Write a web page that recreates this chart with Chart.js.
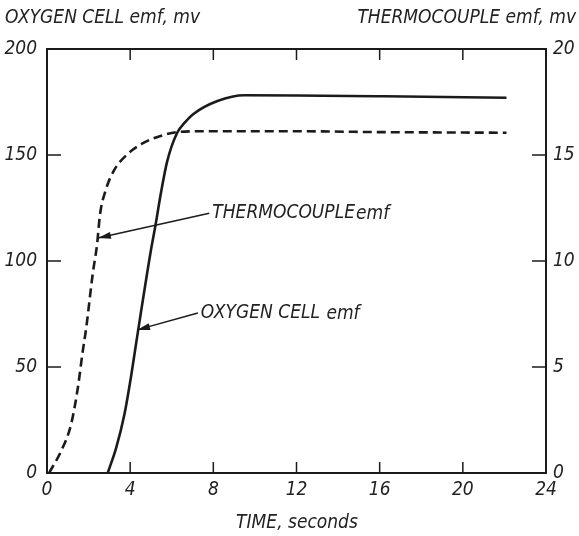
<!DOCTYPE html>
<html>
<head>
<meta charset="utf-8">
<script src="https://cdn.jsdelivr.net/npm/chart.js@4.4.1/dist/chart.umd.min.js"></script>
<style>
  html, body { margin: 0; padding: 0; background: #fff; }
  #wrap { width: 579px; height: 536px; }
</style>
</head>
<body>
<div id="wrap"><canvas id="chart" width="579" height="536"></canvas></div>
<script>
// oxygen cell emf, mv (left axis)
const oxygenTime = [2.92, 3.33, 3.73, 4.05, 4.3, 4.98, 5.22, 5.46, 5.78, 6.26, 6.6, 7.06, 8.2, 9.5, 12, 16.2, 22.1];
const oxygenEmf = [0, 12, 28, 46, 62, 104, 117, 131, 147, 160.5, 165, 169.5, 175.5, 178.2, 178.1, 177.7, 177];

// thermocouple emf, mv (right axis)
const thermoTime = [0.1, 0.68, 1.16, 1.48, 1.72, 1.88, 2.2, 2.41, 2.55, 2.81, 3.21, 3.86, 4.66, 5.46, 6.26, 7.4, 12, 16, 22.1];
const thermoEmf = [0, 1.04, 2.3, 4.0, 5.75, 6.8, 9.4, 10.8, 12.2, 13.3, 14.25, 15.03, 15.58, 15.9, 16.08, 16.12, 16.12, 16.08, 16.05];

const timeTicks = [0, 4, 8, 12, 16, 20, 24];
const leftTicks = [0, 50, 100, 150, 200];
const rightTicks = [0, 5, 10, 15, 20];

const ink = '#1b1b1b';
const font = "'Liberation Sans Narrow', 'DejaVu Sans Condensed', 'Liberation Sans', sans-serif";

const pts = (xs, ys) => xs.map((x, i) => ({ x: x, y: ys[i] }));

// labels with arrows, in data units of x and left y axis
const notes = [
  { text: 'THERMOCOUPLE', small: 'emf', tx: 7.95, ty: 122.5, ax: 2.45, ay: 110.8 },
  { text: 'OXYGEN CELL ', small: 'emf', tx: 7.4, ty: 75.5, ax: 4.33, ay: 67.5 }
];

const framePlugin = {
  id: 'frame',
  afterDraw(chart) {
    const ctx = chart.ctx;
    const a = chart.chartArea;
    const xs = chart.scales.x, yl = chart.scales.yL, yr = chart.scales.yR;
    ctx.save();
    ctx.strokeStyle = ink;
    ctx.lineWidth = 2;
    ctx.beginPath();
    ctx.moveTo(a.left - 1, a.top);
    ctx.lineTo(a.right + 1, a.top);
    ctx.stroke();

    // inward ticks
    ctx.lineWidth = 1.5;
    ctx.beginPath();
    timeTicks.slice(1, -1).forEach(v => {
      const px = xs.getPixelForValue(v);
      ctx.moveTo(px, a.bottom); ctx.lineTo(px, a.bottom - 11);
      ctx.moveTo(px, a.top); ctx.lineTo(px, a.top + 11);
    });
    leftTicks.slice(1, -1).forEach(v => {
      const py = yl.getPixelForValue(v);
      ctx.moveTo(a.left, py); ctx.lineTo(a.left + 14, py);
    });
    rightTicks.slice(1, -1).forEach(v => {
      const py = yr.getPixelForValue(v);
      ctx.moveTo(a.right, py); ctx.lineTo(a.right - 14, py);
    });
    ctx.stroke();

    // axis titles
    ctx.fillStyle = '#222';
    ctx.textBaseline = 'alphabetic';
    ctx.font = 'italic 19px ' + font;
    ctx.textAlign = 'left';
    ctx.fillText('OXYGEN CELL emf, mv', 5, 23);
    ctx.textAlign = 'right';
    ctx.fillText('THERMOCOUPLE emf, mv', 576, 23);
    ctx.textAlign = 'center';
    ctx.fillText('TIME, seconds', 297, 528);

    // annotations with arrows
    notes.forEach(n => {
      const tx = xs.getPixelForValue(n.tx), ty = yl.getPixelForValue(n.ty);
      const ax = xs.getPixelForValue(n.ax), ay = yl.getPixelForValue(n.ay);
      ctx.strokeStyle = ink;
      ctx.lineWidth = 1.5;
      ctx.beginPath();
      ctx.moveTo(tx - 3, ty);
      ctx.lineTo(ax, ay);
      ctx.stroke();
      const ang = Math.atan2(ay - ty, ax - tx);
      ctx.fillStyle = ink;
      ctx.beginPath();
      ctx.moveTo(ax, ay);
      ctx.lineTo(ax - 13 * Math.cos(ang) + 3.5 * Math.sin(ang), ay - 13 * Math.sin(ang) - 3.5 * Math.cos(ang));
      ctx.lineTo(ax - 13 * Math.cos(ang) - 3.5 * Math.sin(ang), ay - 13 * Math.sin(ang) + 3.5 * Math.cos(ang));
      ctx.closePath();
      ctx.fill();
      ctx.fillStyle = '#222';
      ctx.textAlign = 'left';
      ctx.textBaseline = 'middle';
      ctx.font = 'italic 19px ' + font;
      ctx.fillText(n.text, tx, ty);
      const mw = ctx.measureText(n.text).width;
      ctx.fillText(n.small, tx + mw + 1, ty + 1);
    });
    ctx.restore();
  }
};

new Chart(document.getElementById('chart'), {
  type: 'line',
  data: {
    datasets: [
      {
        label: 'OXYGEN CELL emf',
        data: pts(oxygenTime, oxygenEmf),
        yAxisID: 'yL',
        borderColor: ink,
        borderWidth: 2.6,
        pointRadius: 0,
        cubicInterpolationMode: 'monotone',
        fill: false
      },
      {
        label: 'THERMOCOUPLE emf',
        data: pts(thermoTime, thermoEmf),
        yAxisID: 'yR',
        borderColor: ink,
        borderWidth: 2.6,
        borderDash: [9, 5],
        pointRadius: 0,
        cubicInterpolationMode: 'monotone',
        fill: false
      }
    ]
  },
  options: {
    responsive: false,
    animation: false,
    devicePixelRatio: 1,
    layout: { padding: { top: 49, left: 0, right: 0, bottom: 0 } },
    plugins: { legend: { display: false }, tooltip: { enabled: false } },
    scales: {
      x: {
        type: 'linear',
        min: 0, max: 24,
        afterFit: s => { s.height = 63; },
        afterBuildTicks: s => { s.ticks = timeTicks.map(v => ({ value: v })); },
        grid: { display: false, drawTicks: false },
        border: { display: true, color: ink, width: 2 },
        ticks: { color: '#222', padding: 6, font: { family: font, size: 19, style: 'italic' } }
      },
      yL: {
        type: 'linear',
        position: 'left',
        min: 0, max: 200,
        afterFit: s => { s.width = 47; },
        afterBuildTicks: s => { s.ticks = leftTicks.map(v => ({ value: v })); },
        grid: { display: false, drawTicks: false },
        border: { display: true, color: ink, width: 2 },
        ticks: { color: '#222', padding: 10, font: { family: font, size: 19, style: 'italic' } }
      },
      yR: {
        type: 'linear',
        position: 'right',
        min: 0, max: 20,
        afterFit: s => { s.width = 33; },
        afterBuildTicks: s => { s.ticks = rightTicks.map(v => ({ value: v })); },
        grid: { display: false, drawTicks: false },
        border: { display: true, color: ink, width: 2 },
        ticks: { color: '#222', padding: 7, font: { family: font, size: 19, style: 'italic' } }
      }
    }
  },
  plugins: [framePlugin]
});
</script>
</body>
</html>
